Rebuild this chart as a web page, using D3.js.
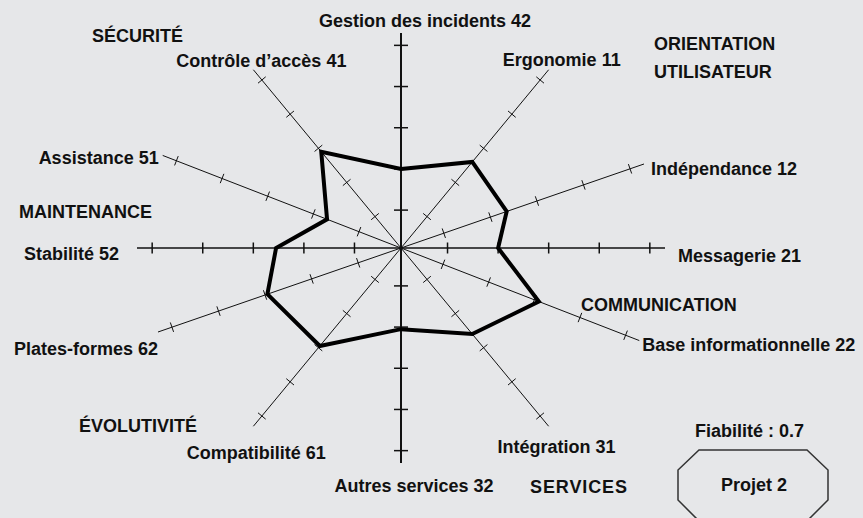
<!DOCTYPE html>
<html>
<head>
<meta charset="utf-8">
<script src="https://cdn.jsdelivr.net/npm/d3@7"></script>
<style>
  body { margin: 0; background: #e6e7e9; }
  text { font-family: "Liberation Sans", Arial, sans-serif; font-weight: bold; font-size: 18px; fill: #111; }
</style>
</head>
<body>
<div id="chart"></div>
<script>
// criteria, clockwise from the top
const axes = ["Gestion des incidents 42", "Ergonomie 11", "Indépendance 12", "Messagerie 21",
  "Base informationnelle 22", "Intégration 31", "Autres services 32", "Compatibilité 61",
  "Plates-formes 62", "Stabilité 52", "Assistance 51", "Contrôle d’accès 41"]
const scores = [2, 2.6, 2.35, 2, 3.1, 2.6, 2.05, 2.95, 2.95, 2.55, 1.7, 2.9]
const tickValues = [1, 2, 3, 4, 5]
const groups = ["SÉCURITÉ", "ORIENTATION", "UTILISATEUR", "MAINTENANCE", "COMMUNICATION", "ÉVOLUTIVITÉ", "SERVICES"]
const reliability = "Fiabilité : 0.7"
const project = "Projet 2"

const width = 863
const height = 518
const cx = 401, cy = 248
const rx = 264, ry = 215

// axis directions of the (squashed) star, degrees
const angles = [90, 56, 23, 0, -25.5, -56, -90, -124, -157, 180, 154.5, 124]
// label placement relative to the axis end: [dx, dy, anchor]
const labelPos = [
  [24, -6, "middle"], [-46, -4, "start"], [7, 11, "start"], [13, 14, "start"],
  [3, 10, "start"], [8, 27, "middle"], [13, 29, "middle"], [3, 33, "middle"],
  [0, 23, "end"], [-18, 12, "end"], [-4, 9, "end"], [8, -3, "middle"]
]
const groupPos = [[92, 42], [654, 50], [654, 78], [19, 218], [581, 311], [79, 432], [530, 493]]

const r = d3.scaleLinear().domain([0.08, 5.3]).range([0, 1])

function pt(i, v) {
  const a = angles[i] * Math.PI / 180
  const f = r(v)
  return [cx + f * rx * Math.cos(a), cy - f * ry * Math.sin(a)]
}

const svg = d3.select("#chart")
  .append("svg")
  .attr("width", width)
  .attr("height", height)

svg.append("rect")
  .attr("width", width)
  .attr("height", height)
  .attr("fill", "#e6e7e9")

const axisG = svg.append("g")

axes.forEach((name, i) => {
  const end = pt(i, 5.3)
  const main = angles[i] % 90 === 0
  const sw = angles[i] === 90 || angles[i] === -90 ? 2 : (main ? 1.4 : 1)
  axisG.append("line")
    .attr("x1", cx).attr("y1", cy)
    .attr("x2", end[0]).attr("y2", end[1])
    .attr("stroke", "#111")
    .attr("stroke-width", sw)

  const dx = end[0] - cx, dy = end[1] - cy
  const len = Math.hypot(dx, dy)
  const px = -dy / len, py = dx / len
  const half = angles[i] === 90 || angles[i] === -90 ? 7 : (main ? 5.5 : 5)
  axisG.selectAll(null)
    .data(tickValues)
    .join("line")
    .attr("x1", (d) => pt(i, d)[0] - px * half)
    .attr("y1", (d) => pt(i, d)[1] - py * half)
    .attr("x2", (d) => pt(i, d)[0] + px * half)
    .attr("y2", (d) => pt(i, d)[1] + py * half)
    .attr("stroke", "#111")
    .attr("stroke-width", main ? 1.5 : 1)

  svg.append("text")
    .attr("x", end[0] + labelPos[i][0])
    .attr("y", end[1] + labelPos[i][1])
    .attr("text-anchor", labelPos[i][2])
    .text(name)
})

const line = d3.line().curve(d3.curveLinearClosed)

svg.append("path")
  .attr("d", line(scores.map((v, i) => pt(i, v))))
  .attr("fill", "none")
  .attr("stroke", "#000")
  .attr("stroke-width", 4)
  .attr("stroke-linejoin", "miter")

svg.selectAll(".group")
  .data(groups)
  .join("text")
  .attr("class", "group")
  .attr("x", (d, i) => groupPos[i][0])
  .attr("y", (d, i) => groupPos[i][1])
  .attr("letter-spacing", (d) => d === "SERVICES" ? 0.9 : 0)
  .text((d) => d)

svg.append("text")
  .attr("x", 695)
  .attr("y", 437)
  .text(reliability)

// octagon badge
const oct = [[699, 450], [807, 450], [828, 470], [828, 500], [807, 521], [699, 521], [678, 500], [678, 470]]
svg.append("path")
  .attr("d", line(oct))
  .attr("fill", "none")
  .attr("stroke", "#333")
  .attr("stroke-width", 1.5)

svg.append("text")
  .attr("x", 754)
  .attr("y", 491)
  .attr("text-anchor", "middle")
  .text(project)
</script>
</body>
</html>
